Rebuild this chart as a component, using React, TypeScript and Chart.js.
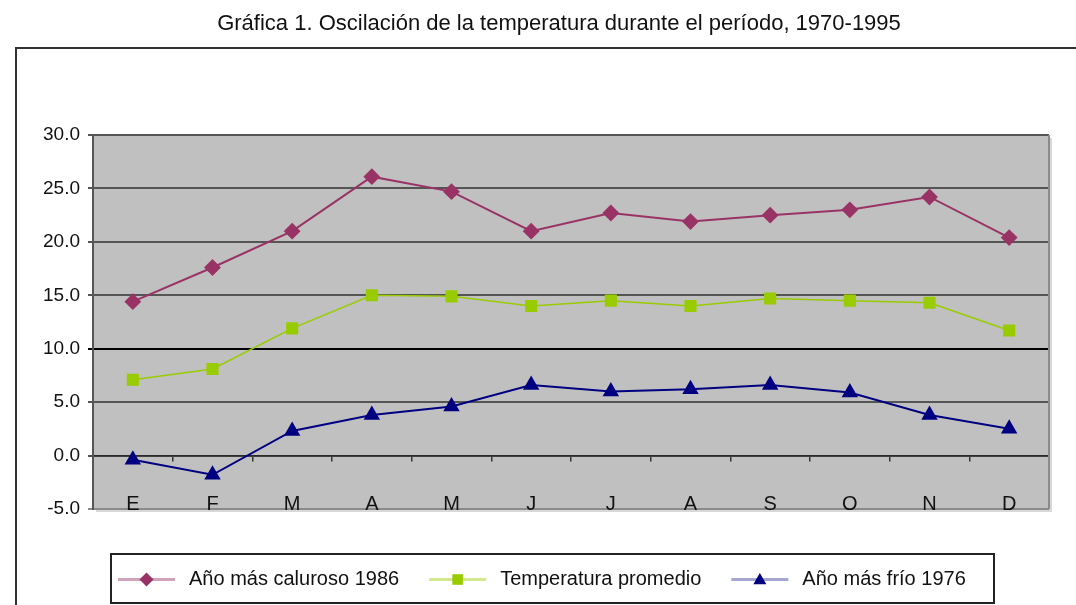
import React, { useEffect, useRef } from 'react';
import { Chart, registerables } from 'chart.js';

Chart.register(...registerables);

const TITLE = 'Gráfica 1. Oscilación de la temperatura durante el período, 1970-1995';
const months = ['E', 'F', 'M', 'A', 'M', 'J', 'J', 'A', 'S', 'O', 'N', 'D'];

const hotLabel = 'Año más caluroso 1986';
const avgLabel = 'Temperatura promedio';
const coldLabel = 'Año más frío 1976';

const hotValues = [14.4, 17.6, 21.0, 26.1, 24.7, 21.0, 22.7, 21.9, 22.5, 23.0, 24.2, 20.4];
const avgValues = [7.1, 8.1, 11.9, 15.0, 14.9, 14.0, 14.5, 14.0, 14.7, 14.5, 14.3, 11.7];
const coldValues = [-0.4, -1.8, 2.3, 3.8, 4.6, 6.6, 6.0, 6.2, 6.6, 5.9, 3.8, 2.5];

const yMin = -5;
const yMax = 30;
const yStep = 5;

const FONT = '"Liberation Sans", Arial, sans-serif';
const HOT = '#993366';
const AVG = '#99CC00';
const COLD = '#000080';

const framePlugin = {
  id: 'frame',
  beforeDraw(chart: any) {
    const { ctx, chartArea: a, width, height } = chart;
    ctx.save();
    ctx.fillStyle = '#ffffff';
    ctx.fillRect(0, 0, width, height);
    // outer frame
    ctx.strokeStyle = '#333333';
    ctx.lineWidth = 2;
    ctx.beginPath();
    ctx.moveTo(16, height + 2);
    ctx.lineTo(16, 48);
    ctx.lineTo(width + 2, 48);
    ctx.stroke();
    // title
    ctx.fillStyle = '#111111';
    ctx.font = '22px ' + FONT;
    ctx.textAlign = 'center';
    ctx.textBaseline = 'middle';
    ctx.fillText(TITLE, 559, 24);
    // plot shadow + background
    ctx.fillStyle = '#d8d8d8';
    ctx.fillRect(a.left + 3, a.top + 3, a.right - a.left, a.bottom - a.top);
    ctx.fillStyle = '#C0C0C0';
    ctx.fillRect(a.left, a.top, a.right - a.left, a.bottom - a.top);
    ctx.restore();
  },
  beforeDatasetsDraw(chart: any) {
    const { ctx, chartArea: a } = chart;
    ctx.save();
    ctx.strokeStyle = '#8a8a8a';
    ctx.lineWidth = 2;
    ctx.beginPath();
    ctx.moveTo(a.right, a.top);
    ctx.lineTo(a.right, a.bottom);
    ctx.stroke();
    ctx.restore();
  },
  afterDraw(chart: any) {
    const { ctx } = chart;
    const box = { left: 111, top: 554, right: 994, bottom: 603 };
    ctx.save();
    ctx.fillStyle = '#ffffff';
    ctx.fillRect(box.left, box.top, box.right - box.left, box.bottom - box.top);
    ctx.strokeStyle = '#222222';
    ctx.lineWidth = 2;
    ctx.strokeRect(box.left, box.top, box.right - box.left, box.bottom - box.top);
    const cy = (box.top + box.bottom) / 2 + 1;
    let x = box.left + 7;
    ctx.font = '20px ' + FONT;
    ctx.textBaseline = 'middle';
    ctx.textAlign = 'left';
    chart.data.datasets.forEach((ds: any) => {
      const lineLen = 57;
      ctx.strokeStyle = ds.legendLineColor;
      ctx.lineWidth = 3;
      ctx.beginPath();
      ctx.moveTo(x, cy);
      ctx.lineTo(x + lineLen, cy);
      ctx.stroke();
      ctx.fillStyle = ds.pointBackgroundColor;
      const r = ds.pointRadius;
      const mx = x + lineLen / 2;
      ctx.beginPath();
      if (ds.pointStyle === 'rectRot') {
        ctx.moveTo(mx, cy - r);
        ctx.lineTo(mx + r, cy);
        ctx.lineTo(mx, cy + r);
        ctx.lineTo(mx - r, cy);
      } else if (ds.pointStyle === 'rect') {
        const s = r * Math.SQRT1_2;
        ctx.rect(mx - s, cy - s, 2 * s, 2 * s);
      } else {
        const h = r * 1.5;
        ctx.moveTo(mx, cy - r * 0.75 - 1);
        ctx.lineTo(mx + r * 0.866, cy + h - r * 0.75 - 1);
        ctx.lineTo(mx - r * 0.866, cy + h - r * 0.75 - 1);
      }
      ctx.closePath();
      ctx.fill();
      ctx.fillStyle = '#111111';
      const tx = x + lineLen + 14;
      ctx.fillText(ds.label, tx, cy);
      x = tx + ctx.measureText(ds.label).width + 30;
    });
    ctx.restore();
  },
};

export default function App() {
  const canvasRef = useRef<HTMLCanvasElement | null>(null);

  useEffect(() => {
    const canvas = canvasRef.current;
    if (!canvas) return;
    const chart = new Chart(canvas, {
      type: 'line',
      data: {
        labels: months,
        datasets: [
          {
            label: hotLabel,
            data: hotValues,
            borderColor: HOT,
            backgroundColor: HOT,
            pointBackgroundColor: HOT,
            pointBorderColor: HOT,
            pointStyle: 'rectRot',
            pointRadius: 7,
            borderWidth: 2,
            legendLineColor: 'rgba(153,51,102,0.45)',
          } as any,
          {
            label: avgLabel,
            data: avgValues,
            borderColor: AVG,
            backgroundColor: AVG,
            pointBackgroundColor: AVG,
            pointBorderColor: AVG,
            pointStyle: 'rect',
            pointRadius: 7.5,
            borderWidth: 1.5,
            legendLineColor: 'rgba(153,204,0,0.45)',
          } as any,
          {
            label: coldLabel,
            data: coldValues,
            borderColor: COLD,
            backgroundColor: COLD,
            pointBackgroundColor: COLD,
            pointBorderColor: COLD,
            pointStyle: 'triangle',
            pointRadius: 7.5,
            borderWidth: 2,
            legendLineColor: 'rgba(0,0,128,0.35)',
          } as any,
        ],
      },
      options: {
        responsive: false,
        animation: false,
        events: [],
        layout: { padding: { left: 0, top: 135, right: 27, bottom: 96 } },
        plugins: {
          legend: { display: false },
          title: { display: false },
          tooltip: { enabled: false },
        },
        scales: {
          x: {
            type: 'category',
            position: { y: 0 } as any,
            offset: true,
            grid: {
              offset: true,
              drawOnChartArea: false,
              drawTicks: true,
              tickLength: 5,
              color: '#333333',
              lineWidth: 1.5,
            },
            border: { display: true, color: '#2a2a2a', width: 1.5 },
            ticks: {
              color: '#111111',
              font: { family: FONT, size: 20 },
              padding: 32,
              maxRotation: 0,
              autoSkip: false,
            },
          },
          y: {
            type: 'linear',
            min: yMin,
            max: yMax,
            afterFit(scale: any) {
              scale.width = 93;
            },
            grid: {
              color: (c: any) => (c.tick && c.tick.value === 10 ? '#000000' : c.tick && c.tick.value === yMin ? '#8a8a8a' : '#555555'),
              lineWidth: 2,
              tickLength: 5,
              drawTicks: true,
            },
            border: { display: true, color: '#555555', width: 2 },
            ticks: {
              stepSize: yStep,
              color: '#111111',
              font: { family: FONT, size: 19 },
              padding: 8,
              callback: (v: any) => Number(v).toFixed(1),
            },
          },
        },
      },
      plugins: [framePlugin],
    });
    return () => chart.destroy();
  }, []);

  return (
    <div style={{ position: 'fixed', left: 0, top: 0, width: 1076, height: 605, overflow: 'hidden', background: '#fff' }}>
      <canvas ref={canvasRef} width={1076} height={605} style={{ display: 'block', width: 1076, height: 605 }} />
    </div>
  );
}
